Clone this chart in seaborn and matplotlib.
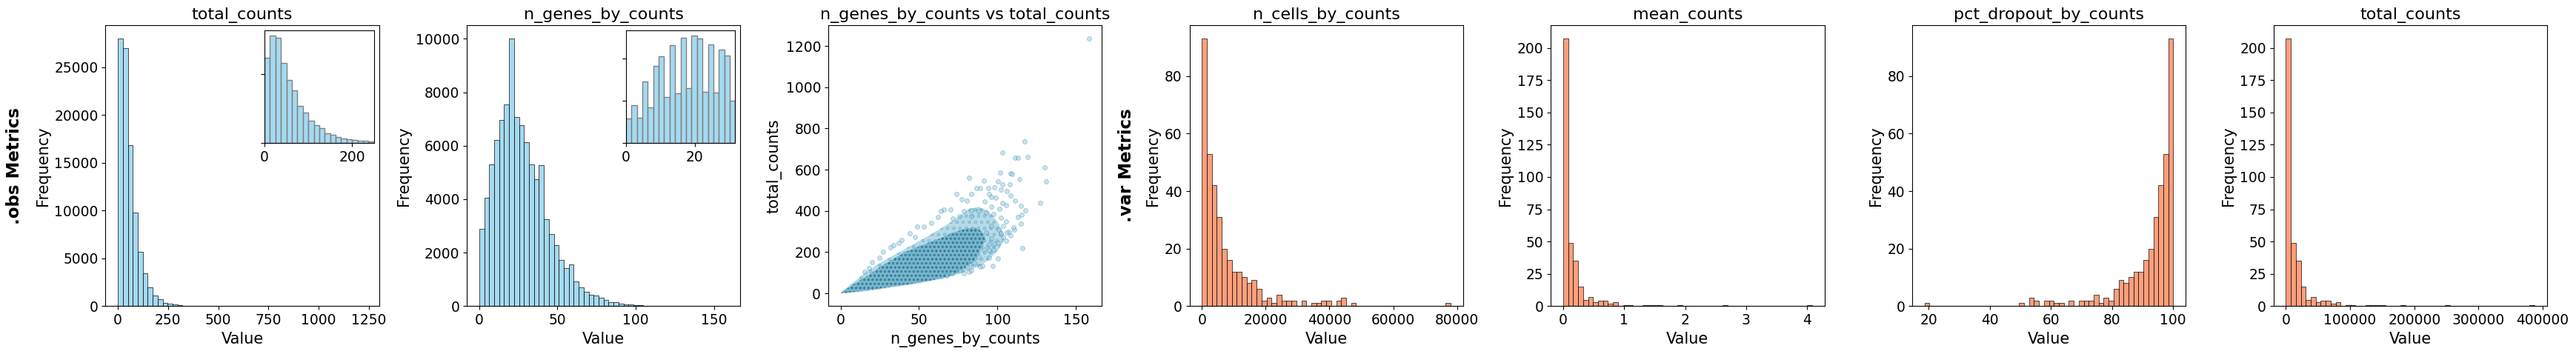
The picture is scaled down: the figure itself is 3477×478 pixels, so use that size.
import numpy as np
import pandas as pd
import matplotlib
matplotlib.use("Agg")
import matplotlib.pyplot as plt
import seaborn as sns
from mpl_toolkits.axes_grid1.inset_locator import inset_axes

# ---- .obs metrics (histogram counts read per bin) ----
obs_total_range = (0, 1240)
obs_total_counts = [27970, 26960, 16810, 9760, 5656, 3409, 1963, 1140, 690, 350,
                    250, 190, 110, 60, 50, 40, 30, 25, 15, 10,
                    8, 6, 5, 4, 3, 2, 2, 1, 1, 0,
                    0, 0, 0, 0, 0, 0, 0, 0, 0, 0,
                    0, 0, 0, 0, 0, 0, 0, 0, 0, 1]
obs_total_inset_range = (0, 250)
obs_total_inset_counts = [12390, 15600, 15360, 11600, 9180, 7640, 5430, 4430, 3250, 2570,
                          2110, 1430, 1140, 890, 680, 540, 430, 340, 260, 200]

obs_genes_range = (0, 159)
obs_genes_counts = [2880, 4045, 5290, 6220, 6950, 7535, 10000, 7065, 6760, 6120,
                    5290, 4735, 5265, 3240, 2690, 2270, 1735, 1410, 1550, 925,
                    690, 545, 435, 390, 305, 240, 135, 135, 85, 50,
                    50, 40, 28, 18, 15, 6, 4, 3, 2, 1,
                    1, 0, 0, 0, 0, 0, 0, 0, 0, 1]
obs_genes_inset_range = (0, 31.7)
obs_genes_inset_counts = [1170, 1800, 1205, 2924, 1672, 3660, 4105, 2187, 4643, 2363,
                          4994, 2608, 5088, 4947, 2433, 4678, 2398, 4433, 4152, 2012]

# scatter: outer, looser part of the cloud (n_genes_by_counts -> total_counts bounds)
cloud_x = [0, 3, 8, 15, 25, 35, 45, 55, 65, 75, 82, 88, 94, 100, 104]
cloud_lo = [0, 1, 4, 10, 20, 31, 43, 56, 71, 93, 112, 130, 160, 205, 255]
cloud_hi = [0, 22, 52, 97, 147, 190, 232, 275, 320, 370, 410, 420, 400, 350, 290]
# scatter: dense core of the cloud
core_x = [0, 2, 5, 10, 17.6, 25, 33, 41, 49, 57, 65, 72, 80, 86, 90, 92]
core_lo = [0, 1, 4, 8, 15, 24, 33, 42, 51, 62, 75, 90, 125, 165, 220, 255]
core_hi = [0, 10, 28, 52, 87, 127, 164, 200, 224, 248, 272, 296, 314, 320, 300, 275]

# scatter: individual points outside the dense core
scatter_x = [158.5, 117.1, 103, 111, 112.9, 119, 129.8, 131.2, 101.9, 108.2,
             109.1, 114, 81.8, 91.2, 100.2, 73.7, 103, 108, 98, 94,
             102, 105.8, 108.2, 111, 115, 117.9, 112.9, 115.2, 115, 110.8,
             107.4, 108.2, 103.8, 100.2, 100.2, 94.7, 97, 88.9, 81.8, 78.7,
             97.5, 127, 116,
             62, 65.8, 70, 64, 57.8, 53, 48.9, 44, 47.3, 38.7,
             37, 33.5, 31.8, 27.3, 24.9, 20, 18.3, 15.2,
             77, 83.4, 86.5, 88.9, 94.4, 96, 99, 103, 105.3, 101.4,
             96, 92, 88, 83.4, 78.7, 80.3, 75.5, 71.6, 83.4, 92.8,
             97.5, 102.2, 105.3, 103.4, 100.6, 95.9, 92.8, 95.9, 97.8, 102.2,
             106.1, 110, 105.3, 94.4, 91.2, 94.4, 88, 85, 80.3, 75.5,
             70.8, 67.7, 83.4, 90.4]
scatter_y = [1238, 737, 683, 658, 658, 661, 611, 543, 586, 582,
             579, 554, 562, 548, 542, 480, 527, 527, 515, 510,
             502, 495, 475, 450, 425, 404, 371, 382, 337, 308,
             299, 282, 275, 246, 168, 174, 133, 129, 105, 99,
             213, 438, 221,
             371, 407, 407, 399, 341, 322, 325, 293, 272, 258,
             246, 234, 224, 200, 174, 150, 123, 105,
             457, 481, 509, 511, 480, 469, 463, 439, 427, 410,
             421, 445, 398, 404, 398, 451, 374, 362, 374, 392,
             386, 368, 350, 326, 308, 326, 296, 266, 242, 290,
             296, 320, 254, 236, 213, 207, 177, 147, 129, 111,
             99, 87, 111, 135]

# ---- .var metrics ----
var_cells_range = (0, 78000)
var_cells_counts = [93, 53, 42, 31, 20, 16, 12, 12, 10, 8,
                    9, 6, 2, 3, 1, 4, 2, 2, 2, 0,
                    2, 0, 1, 1, 2, 2, 0, 2, 3, 0,
                    1, 0, 0, 0, 0, 0, 0, 0, 0, 0,
                    0, 0, 0, 0, 0, 0, 0, 0, 0, 1]
var_mean_range = (0, 4.08)
var_mean_counts = [207, 49, 35, 15, 5, 7, 3, 4, 4, 2,
                   3, 0, 1, 1, 0, 0, 1, 1, 1, 1,
                   0, 0, 0, 1, 0, 0, 0, 0, 0, 0,
                   0, 0, 1, 0, 0, 0, 0, 0, 0, 0,
                   0, 0, 0, 0, 0, 0, 0, 0, 0, 1]
var_dropout_range = (18.6, 100.1)
var_dropout_counts = [1, 0, 0, 0, 0, 0, 0, 0, 0, 0,
                      0, 0, 0, 0, 0, 0, 0, 0, 0, 1,
                      0, 3, 2, 0, 2, 2, 1, 1, 0, 2,
                      0, 2, 2, 2, 4, 1, 3, 2, 6, 9,
                      8, 10, 12, 12, 16, 20, 31, 42, 53, 93]
var_total_range = (0, 387300)
var_total_counts = [207, 49, 35, 15, 5, 7, 3, 4, 4, 2,
                    3, 0, 1, 1, 0, 0, 1, 1, 1, 1,
                    0, 0, 0, 1, 0, 0, 0, 0, 0, 0,
                    0, 0, 1, 0, 0, 0, 0, 0, 0, 0,
                    0, 0, 0, 0, 0, 0, 0, 0, 0, 1]

plt.rcParams['xtick.labelsize'] = 13.4
plt.rcParams['ytick.labelsize'] = 13.4
plt.rcParams['axes.labelsize'] = 15
plt.rcParams['axes.titlesize'] = 16
plt.rcParams['hatch.linewidth'] = 0.6

OBS_COLOR = 'skyblue'
VAR_COLOR = 'coral'


def draw_hist(ax, rng, counts, color, edgecolor='black'):
    #bins are rebuilt from the range, each bar weighted by its read count
    edges = np.linspace(rng[0], rng[1], len(counts) + 1)
    df = pd.DataFrame({'value': (edges[:-1] + edges[1:]) / 2, 'count': counts})
    sns.histplot(data=df, x='value', weights='count', bins=edges.tolist(), color=color,
                 edgecolor=edgecolor, alpha=0.75, ax=ax)


fig = plt.figure(figsize=(34.77, 4.78), dpi=100)
W, H = 3477, 478
axes = []
for i in range(7):
    left = (142.4 + 487.7 * i) / W
    axes.append(fig.add_axes([left, (H - 413.3) / H, 369.3 / W, 379 / H]))

#total_counts (obs) with zoomed inset
ax = axes[0]
draw_hist(ax, obs_total_range, obs_total_counts, OBS_COLOR)
ax.set_title('total_counts')
ax.set_xlabel('Value')
ax.set_ylabel('Frequency')
ins = inset_axes(ax, width="40%", height="40%", loc="upper right", borderpad=0.5)
draw_hist(ins, obs_total_inset_range, obs_total_inset_counts, OBS_COLOR, edgecolor='grey')
ins.set_xlim(*obs_total_inset_range)
ins.set_xticks([0, 200])
ins.set_yticks([0, 10000])
ins.tick_params(axis='y', labelleft=False)
ins.set_xlabel('')
ins.set_ylabel('')

#n_genes_by_counts (obs) with zoomed inset
ax = axes[1]
draw_hist(ax, obs_genes_range, obs_genes_counts, OBS_COLOR)
ax.set_title('n_genes_by_counts')
ax.set_xlabel('Value')
ax.set_ylabel('Frequency')
ins = inset_axes(ax, width="40%", height="40%", loc="upper right", borderpad=0.5)
draw_hist(ins, obs_genes_inset_range, obs_genes_inset_counts, OBS_COLOR, edgecolor='grey')
ins.set_xlim(*obs_genes_inset_range)
ins.set_xticks([0, 20])
ins.set_yticks([0, 2000, 4000])
ins.tick_params(axis='y', labelleft=False)
ins.set_xlabel('')
ins.set_ylabel('')

#scatter n_genes vs total_counts: looser cloud, dense core, then single points
ax = axes[2]
ax.fill_between(cloud_x, cloud_lo, cloud_hi, facecolor='#a8d4e6', edgecolor='#7fb2c6',
                hatch='oo', linewidth=0, alpha=0.85)
ax.fill_between(core_x, core_lo, core_hi, facecolor='#74b6d0', edgecolor='#3b7a91',
                hatch='ooo', linewidth=0, alpha=0.95)
sns.scatterplot(x=scatter_x, y=scatter_y, color=OBS_COLOR, alpha=0.5, s=18,
                edgecolor='#2f5f70', linewidth=0.4, ax=ax)
ax.set_title('n_genes_by_counts vs total_counts')
ax.set_xlabel('n_genes_by_counts')
ax.set_ylabel('total_counts')

#var metrics
var_panels = [
    ('n_cells_by_counts', var_cells_range, var_cells_counts),
    ('mean_counts', var_mean_range, var_mean_counts),
    ('pct_dropout_by_counts', var_dropout_range, var_dropout_counts),
    ('total_counts', var_total_range, var_total_counts),
]
for ax, (name, rng, counts) in zip(axes[3:], var_panels):
    draw_hist(ax, rng, counts, VAR_COLOR)
    ax.set_title(name)
    ax.set_xlabel('Value')
    ax.set_ylabel('Frequency')

fig.text(19.7 / W, 1 - 223.6 / H, '.obs Metrics', rotation=90, ha='center', va='center',
         fontsize=16.5, fontweight='bold')
fig.text(1520.8 / W, 1 - 223.6 / H, '.var Metrics', rotation=90, ha='center', va='center',
         fontsize=16.5, fontweight='bold')

fig.savefig('out.png', dpi=100)
